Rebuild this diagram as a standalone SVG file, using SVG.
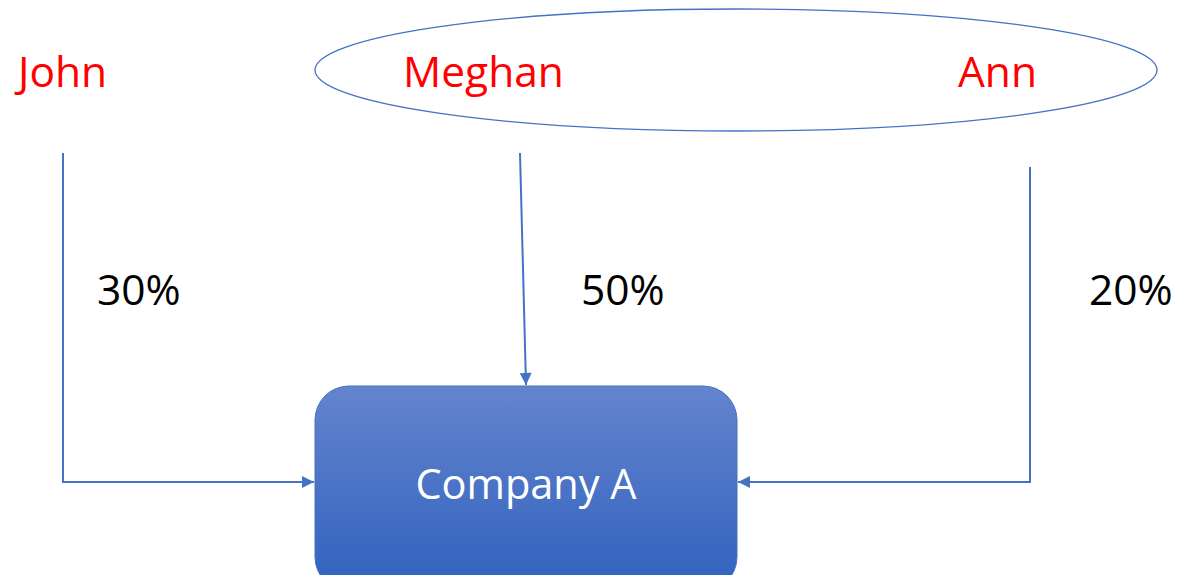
<svg xmlns="http://www.w3.org/2000/svg" width="1177" height="575" viewBox="0 0 1177 575">
<style>
.name{font-family:"Open Sans","Noto Sans",sans-serif;font-size:42.5px;fill:#ff0000}
.pct{font-family:"Open Sans","Noto Sans",sans-serif;font-size:42.5px;fill:#000}
.lbl{font-family:"Open Sans","Noto Sans",sans-serif;font-size:41.5px;fill:#fff}
.conn{fill:none;stroke:#4472C4;stroke-width:2}
</style>
<defs>
<marker id="arr" viewBox="0 0 10 10" refX="10" refY="5" markerWidth="13" markerHeight="12" markerUnits="userSpaceOnUse" orient="auto">
<path d="M0,0 L10,5 L0,10 z" fill="#4472C4"/>
</marker>
<linearGradient id="g" x1="0" y1="0" x2="0" y2="1">
<stop offset="0" stop-color="#6484CD"/>
<stop offset="1" stop-color="#3062BE"/>
</linearGradient>
</defs>
<g id="group-ellipse">
<ellipse cx="736" cy="70" rx="421" ry="61" fill="none" stroke="#4472C4" stroke-width="1.3"/>
</g>
<g id="john"><text class="name" x="18" y="87">John</text></g>
<g id="meghan"><text class="name" x="403" y="87">Meghan</text></g>
<g id="ann"><text class="name" x="958" y="87">Ann</text></g>
<g id="company">
<rect x="315" y="386" width="422" height="205" rx="34" fill="url(#g)" stroke="#4472C4" stroke-width="1"/>
<text class="lbl" x="526" y="499" text-anchor="middle">Company A</text>
</g>
<g id="connectors">
<path class="conn" d="M63,153 V482 H314" marker-end="url(#arr)"/>
<path class="conn" d="M520,153 L526,385" marker-end="url(#arr)"/>
<path class="conn" d="M1030,167 V482 H738" marker-end="url(#arr)"/>
</g>
<g id="labels">
<text class="pct" x="97" y="305">30%</text>
<text class="pct" x="581" y="305">50%</text>
<text class="pct" x="1089" y="305">20%</text>
</g>
</svg>
